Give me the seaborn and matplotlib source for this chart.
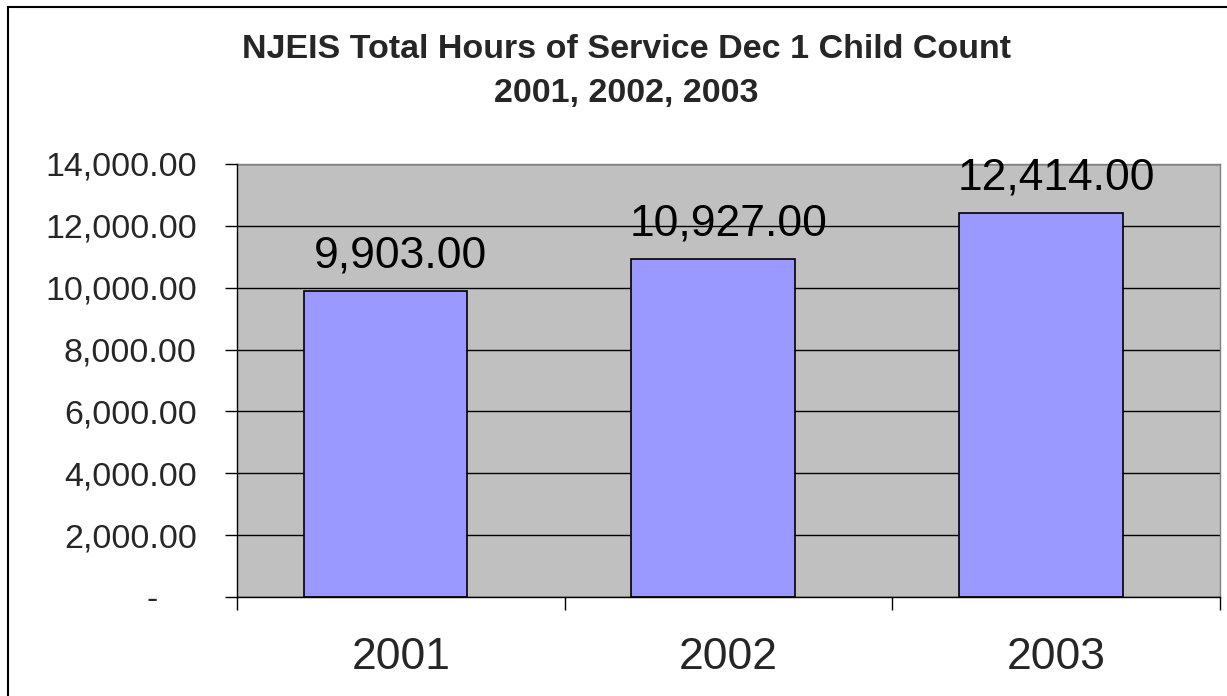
import matplotlib
matplotlib.use("Agg")
import matplotlib.pyplot as plt
import seaborn as sns
import pandas as pd
from matplotlib.patches import Rectangle

years = ["2001", "2002", "2003"]
hours = [9903.00, 10927.00, 12414.00]
yticks = [0, 2000, 4000, 6000, 8000, 10000, 12000, 14000]
title_lines = ["NJEIS Total Hours of Service Dec 1 Child Count", "2001, 2002, 2003"]

sns.set_theme(style="white")
plt.rcParams['font.family'] = ['Liberation Sans', 'DejaVu Sans']

df = pd.DataFrame({"year": years, "hours": hours})

W, H = 1227, 696
fig = plt.figure(figsize=(W / 100, H / 100), dpi=100)
ax = fig.add_axes([237 / W, 1 - 597 / H, (1220 - 237) / W, (597 - 164) / H])

# outer border
fig.patches.append(Rectangle((8 / W, -0.01), 1.02, 1 - 7 / H + 0.01, transform=fig.transFigure,
                             fill=False, edgecolor='black', linewidth=1.5, zorder=0))

ax.set_facecolor('#C0C0C0')
sns.barplot(data=df, x="year", y="hours", color='#9999FF', saturation=1,
            width=0.5, edgecolor='black', linewidth=1.2, ax=ax, zorder=3)
# Excel draws bars slightly left of the category centre
for p in ax.patches:
    p.set_x(p.get_x() - 0.047)

ax.set_ylim(0, 14000)
ax.set_xlim(-0.5, 2.5)
ax.set_yticks(yticks)
ax.set_yticklabels(["-    "] + [f"{v:,.2f}" for v in yticks[1:]], fontsize=24.5)
ax.yaxis.grid(True, color='black', linewidth=1)
ax.set_axisbelow(True)
ax.tick_params(axis='y', which='major', length=9, width=1, color='black', pad=20, left=True)

ax.set_xticks([0, 1, 2])
ax.set_xticklabels(years, fontsize=32)
ax.tick_params(axis='x', which='major', length=0, pad=29)
ax.set_xticks([-0.5, 0.5, 1.5, 2.5], minor=True)
ax.tick_params(axis='x', which='minor', length=9, width=1, color='black', bottom=True)

ax.set_xlabel("")
ax.set_ylabel("")

for s in ['top', 'right']:
    ax.spines[s].set_color('#808080')
    ax.spines[s].set_linewidth(1)
for s in ['left', 'bottom']:
    ax.spines[s].set_color('black')
    ax.spines[s].set_linewidth(1)
    ax.spines[s].set_visible(True)
    ax.spines[s].set_zorder(5)

for i, v in enumerate(hours):
    ax.annotate(f"{v:,.2f}", xy=(i, v), xytext=(0, 25), textcoords='offset points',
                ha='center', va='center', fontsize=32, color='black', zorder=6)

fig.text(626 / W, 1 - 58 / H, title_lines[0], ha='center', va='baseline', fontsize=24.5,
         fontweight='bold')
fig.text(626 / W, 1 - 102 / H, title_lines[1], ha='center', va='baseline', fontsize=24.5,
         fontweight='bold')

fig.savefig("out.png", dpi=100)
